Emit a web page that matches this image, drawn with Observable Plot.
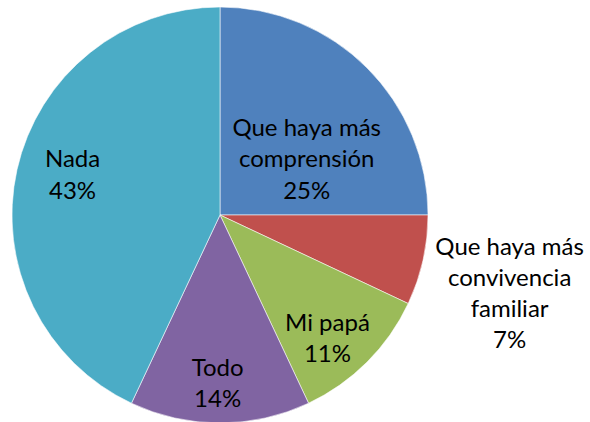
<!DOCTYPE html>
<html><head><meta charset="utf-8">
<script src="https://cdn.jsdelivr.net/npm/d3@7"></script>
<script src="https://cdn.jsdelivr.net/npm/@observablehq/plot@0.6"></script>
<style>body{margin:0;background:#fff;overflow:hidden}</style>
</head><body><div id="chart"></div>
<script>
// Data
const categories = ["Que haya más comprensión", "Que haya más convivencia familiar", "Mi papá", "Todo", "Nada"];
const labelText = ["Que haya más\ncomprensión", "Que haya más\nconvivencia\nfamiliar", "Mi papá", "Todo", "Nada"];
const values = [25, 7, 11, 14, 43];

// Styles / layout
const colors = ["#4F81BD", "#C0504D", "#9BBB59", "#8064A2", "#4BACC6"];
// label placement: [angle (deg, clockwise from top), radius fraction]
const labelPolar = [[56, 0.50], [104.7, 1.437], [138.5, 0.776], [181, 0.80], [286, 0.74]];

const data = categories.map((c, i) => ({category: c, value: values[i], color: colors[i]}));
const total = d3.sum(values);
const arcs = d3.pie().sort(null).value(d => d.value)(data);

const labels = data.map((d, i) => {
  const [a, f] = labelPolar[i];
  const t = a * Math.PI / 180;
  return {
    x: f * Math.sin(t),
    y: f * Math.cos(t),
    text: labelText[i] + "\n" + Math.round(d.value / total * 100) + "%"
  };
});

const slices = (index, scales) => {
  const cx = scales.x(0), cy = scales.y(0), R = scales.x(1) - scales.x(0);
  const g = d3.create("svg:g").attr("transform", `translate(${cx},${cy})`);
  const arc = d3.arc().innerRadius(0).outerRadius(R);
  g.selectAll("path").data(arcs).join("path")
    .attr("d", arc)
    .attr("fill", d => d.data.color)
    .attr("stroke", "#ffffff")
    .attr("stroke-opacity", 0.7)
    .attr("stroke-width", 0.8);
  return g.node();
};

const chart = Plot.plot({
  width: 590,
  height: 422,
  margin: 0,
  style: {background: "#fff", overflow: "visible"},
  x: {domain: [-1, 1], range: [12, 428], axis: null},
  y: {domain: [-1, 1], range: [423, 7], axis: null},
  marks: [
    slices,
    Plot.text(labels, {
      x: "x", y: "y", text: "text",
      fontSize: 24, fontFamily: "Lato", fill: "#000",
      lineHeight: 1.3, textAnchor: "middle"
    })
  ]
});
document.getElementById("chart").append(chart);
</script>
</body></html>
